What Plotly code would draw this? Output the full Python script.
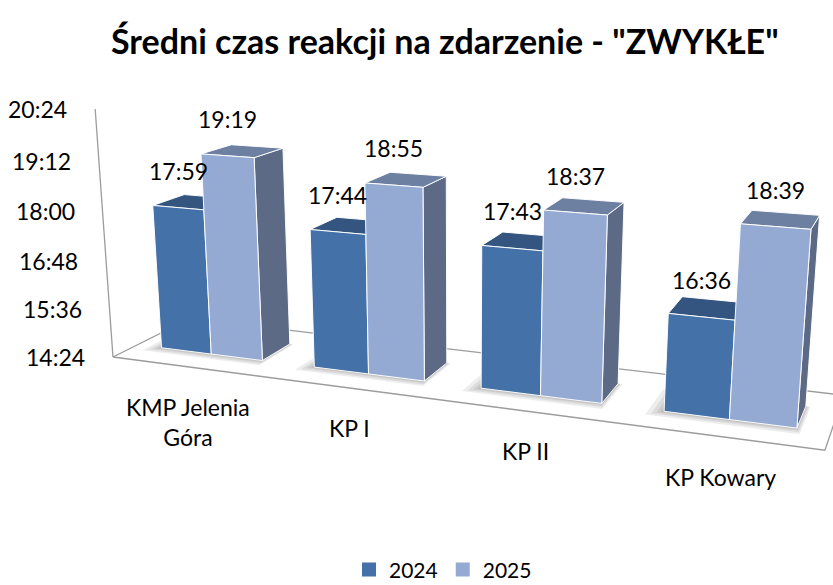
import math
import plotly.graph_objects as go

# ---- data -------------------------------------------------------------
categories = ["KMP Jelenia<br>Góra", "KP I", "KP II", "KP Kowary"]
series_names = ["2024", "2025"]
times_2024 = ["17:59", "17:44", "17:43", "16:36"]
times_2025 = ["19:19", "18:55", "18:37", "18:39"]
axis_ticks = ["14:24", "15:36", "16:48", "18:00", "19:12", "20:24"]


def to_seconds(label):
    m, s = label.split(":")
    return int(m) * 60 + int(s)


AXIS_MIN = to_seconds(axis_ticks[0])
AXIS_MAX = to_seconds(axis_ticks[-1])

# ---- styling ----------------------------------------------------------
W, H = 833, 585
FONT = "Lato"
FACE_COLORS = {
    "2024": dict(front="#4471A8", top="#34557F", side="#34507A"),
    "2025": dict(front="#95AAD3", top="#6D80A1", side="#5D6A86"),
}
FLOOR_LINE = "#9C9C9C"
EDGE = "rgba(255,255,255,0.95)"

# ---- 3-D scene geometry (world units: one category = 1) ---------------
BAR_W = 0.335          # bar width along the category axis
BAR_FRONT = 0.25       # distance of the bar fronts from the floor front edge
BAR_DEPTH = 0.335      # bar depth (square columns)
FLOOR_DEPTH = 0.83
WALL_H = 1.428         # world height of the value axis

# perspective camera
THETA = math.radians(20.9)   # rotation about the vertical axis
PHI = math.radians(15.8)     # downward tilt
FOCAL = 1383.0
CX, CY = 460.0, 301.0
CAM_T = (-1.998, -0.3225, 7.963)

ct, st = math.cos(THETA), math.sin(THETA)
cp, sp = math.cos(PHI), math.sin(PHI)


def project(X, Y, Z):
    x1 = X * ct + Y * st
    d1 = -X * st + Y * ct
    xc = x1 + CAM_T[0]
    yc = Z * cp + d1 * sp + CAM_T[1]
    zc = d1 * cp - Z * sp + CAM_T[2]
    return CX + FOCAL * xc / zc, CY - FOCAL * yc / zc


def z_of(seconds):
    return (seconds - AXIS_MIN) / (AXIS_MAX - AXIS_MIN) * WALL_H


def poly(points, fill, line_color=EDGE, line_width=1.0):
    xs, ys = zip(*[project(*p) for p in points])
    xs = list(xs) + [xs[0]]
    ys = list(ys) + [ys[0]]
    return go.Scatter(
        x=xs, y=ys, mode="lines", fill="toself", fillcolor=fill,
        line=dict(color=line_color, width=line_width),
        hoverinfo="skip", showlegend=False,
    )


fig = go.Figure()

# floor
n = len(categories)
fig.add_trace(poly([(0, 0, 0), (n, 0, 0), (n, FLOOR_DEPTH, 0), (0, FLOOR_DEPTH, 0)],
                   "white", FLOOR_LINE, 1.3))

# value axis line
ax0 = project(0, 0, 0)
ax1 = project(0, 0, WALL_H)
fig.add_trace(go.Scatter(x=[ax0[0], ax1[0]], y=[ax0[1], ax1[1]], mode="lines",
                         line=dict(color=FLOOR_LINE, width=1.3),
                         hoverinfo="skip", showlegend=False))

values = {"2024": [to_seconds(t) for t in times_2024],
          "2025": [to_seconds(t) for t in times_2025]}
labels = {"2024": times_2024, "2025": times_2025}

annotations = []
yf, yb = BAR_FRONT, BAR_FRONT + BAR_DEPTH
for i in range(n):
    centre = i + 0.5
    # soft shadow around the base of each cluster
    for e in (0.08, 0.055, 0.032, 0.015):
        x0, x1 = centre - BAR_W - e, centre + BAR_W + e * 0.3
        fig.add_trace(poly([(x0, yf - e, 0), (x1, yf - e, 0), (x1, yb, 0), (x0, yb, 0)],
                           "rgba(0,0,0,0.07)", "rgba(0,0,0,0)", 0))
    for j, name in enumerate(series_names):
        c = FACE_COLORS[name]
        x0 = centre - BAR_W + j * BAR_W
        x1 = x0 + BAR_W
        z = z_of(values[name][i])
        fig.add_trace(poly([(x1, yf, 0), (x1, yb, 0), (x1, yb, z), (x1, yf, z)], c["side"]))
        fig.add_trace(poly([(x0, yf, z), (x1, yf, z), (x1, yb, z), (x0, yb, z)], c["top"]))
        fig.add_trace(poly([(x0, yf, 0), (x1, yf, 0), (x1, yf, z), (x0, yf, z)], c["front"]))
        lx, ly = project((x0 + x1) / 2, yf, z)
        annotations.append(dict(x=lx, y=ly, xref="x", yref="y", text=labels[name][i],
                                showarrow=False, yshift=37, xanchor="center",
                                yanchor="middle", font=dict(family=FONT, size=23, color="black")))
    # category label under the floor front edge
    cx_, cy_ = project(centre, 0, 0)
    annotations.append(dict(x=cx_, y=cy_, xref="x", yref="y", text=categories[i],
                            showarrow=False, yshift=-24, xanchor="center", yanchor="top",
                            align="center",
                            font=dict(family=FONT, size=23, color="black")))

# value axis tick labels
for t in axis_ticks:
    px, py = project(0, 0, z_of(to_seconds(t)))
    annotations.append(dict(x=px, y=py, xref="x", yref="y", text=t, showarrow=False,
                            xshift=-26, xanchor="right", yanchor="middle",
                            font=dict(family=FONT, size=23, color="black")))

# title
annotations.append(dict(x=445 / W, y=1 - 41 / H, xref="paper", yref="paper",
                        text='<b>Średni czas reakcji na zdarzenie - "ZWYKŁE"</b>',
                        showarrow=False, xanchor="center", yanchor="middle",
                        font=dict(family=FONT, size=34, color="black")))

# legend entries
for name in series_names:
    fig.add_trace(go.Scatter(x=[None], y=[None], mode="markers", name=name,
                             marker=dict(symbol="square", size=14,
                                         color=FACE_COLORS[name]["front"])))

fig.update_layout(
    width=W, height=H,
    margin=dict(l=0, r=0, t=0, b=0, autoexpand=False),
    paper_bgcolor="white", plot_bgcolor="white",
    xaxis=dict(range=[0, W], visible=False, fixedrange=True),
    yaxis=dict(range=[H, 0], visible=False, fixedrange=True),
    annotations=annotations,
    showlegend=True,
    legend=dict(orientation="h", x=443 / W, xanchor="center", y=-0.009, yanchor="bottom",
                font=dict(family=FONT, size=21, color="black"),
                bgcolor="rgba(0,0,0,0)", itemwidth=30),
)

fig.write_html("out.html")
